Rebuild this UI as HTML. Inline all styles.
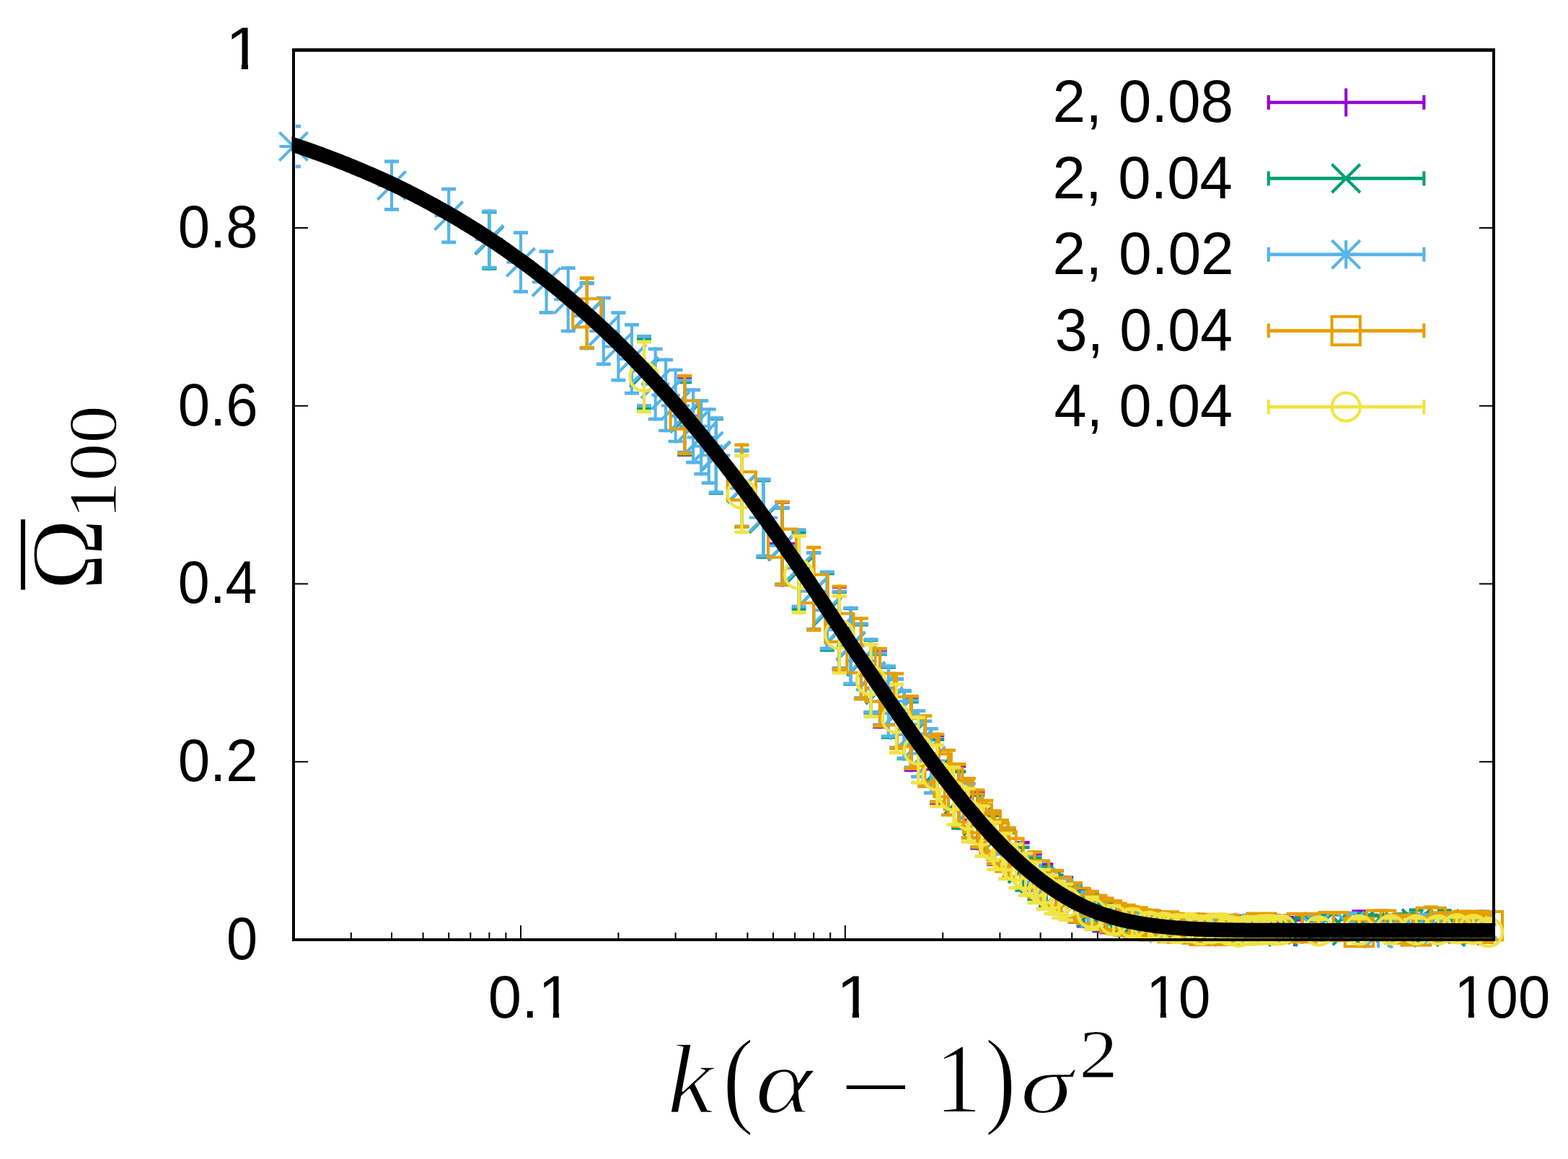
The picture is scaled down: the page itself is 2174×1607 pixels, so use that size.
<!DOCTYPE html>
<html lang="en"><head><meta charset="utf-8"><title>Omega_100 versus k(alpha-1)sigma^2</title>
<style>
html,body{margin:0;padding:0;background:#fff;}
body{width:2174px;height:1607px;overflow:hidden;}
svg{display:block;}
.tk{font-family:"Liberation Sans",sans-serif;fill:#000;}
.mr{font-family:"Liberation Serif",serif;fill:#000;}
.mi{font-family:"Liberation Serif",serif;font-style:italic;fill:#000;}
.mn{font-family:"Liberation Serif",serif;fill:#000;}
.mp,.ms{font-family:"Liberation Serif",serif;fill:#000;}
.mr,.mi,.mp,.ms{stroke:#fff;stroke-width:2px;vector-effect:non-scaling-stroke;stroke-linejoin:round;}
.mi,.mp{stroke-width:2.4px;}
.ms{stroke-width:1.2px;}
.d{fill:none;stroke-width:4.1;stroke-linecap:butt;stroke-linejoin:miter;}
</style></head>
<body>
<svg width="2174" height="1607" viewBox="0 0 2174 1607">
<rect width="2174" height="1607" fill="#fff"/>
<defs><clipPath id="cp"><rect x="404.5" y="67" width="1668.5" height="1238"/></clipPath><clipPath id="ce"><rect x="409.8" y="71" width="1659.2" height="1230"/></clipPath></defs>
<path id="tics" d="M407 1056.3h20M2071 1056.3h-20M407 809.6h20M2071 809.6h-20M407 562.8h20M2071 562.8h-20M407 316.1h20M2071 316.1h-20M486.8 1303v-10M543.0 1303v-10M586.6 1303v-10M622.2 1303v-10M652.3 1303v-10M678.4 1303v-10M701.4 1303v-10M722.0 1303v-20M857.4 1303v-10M936.6 1303v-10M992.8 1303v-10M1036.4 1303v-10M1072.0 1303v-10M1102.1 1303v-10M1128.2 1303v-10M1151.2 1303v-10M1171.8 1303v-20M1307.2 1303v-10M1386.4 1303v-10M1442.6 1303v-10M1486.2 1303v-10M1521.8 1303v-10M1551.9 1303v-10M1578.0 1303v-10M1601.0 1303v-10M1621.6 1303v-20M1757.0 1303v-10M1836.2 1303v-10M1892.4 1303v-10M1936.0 1303v-10M1971.6 1303v-10M2001.7 1303v-10M2027.8 1303v-10M2050.8 1303v-10" fill="none" stroke="#000" stroke-width="2"/>
<g class="d" stroke="#9400d3"><path clip-path="url(#ce)" d="M949.2 633.1V520.5M1084.6 813.4V694.1M1163.8 930.8V811.5M1220 1010.3V898.7M1263.6 1070.3V965.6M1299.2 1115.9V1017.6M1329.3 1150.1V1060M1355.4 1178.6V1095.4M1378.4 1201.1V1123.3M1399 1220.3V1147.1M1417.6 1235.8V1165.9M1434.6 1248.8V1181.8M1450.3 1260.6V1196.1M1464.7 1268V1205.1M1478.2 1275.2V1214.5M1490.8 1280.7V1222.7M1502.7 1286.5V1231.1M1513.8 1290.4V1236.9M1524.4 1293.2V1241.2M1534.4 1295.3V1245M1570 1301.4V1255.7M1600.1 1304.5V1261.2M1626.2 1306.9V1265.5M1649.2 1308.5V1268.2M1669.8 1307.3V1266.2M1688.4 1309.1V1269.1M1705.4 1309.9V1270.3M1721.1 1308.3V1267.9M1735.6 1309.6V1269.9M1749 1310.3V1270.9M1761.6 1309.6V1269.9M1773.5 1308.1V1267.5M1784.6 1309.5V1269.6M1795.2 1311.6V1272.9M1805.2 1309V1268.9M1814.8 1308.1V1267.5M1823.8 1311.3V1272.5M1832.5 1306.8V1265.3M1884.4 1304.6V1261.4M1940.6 1307.1V1265.8M1984.2 1306.7V1265.1M2019.8 1309V1268.9M2049.9 1310.6V1271.4"/><path clip-path="url(#ce)" stroke-width="4.7" d="M939.2 630.7h20M939.2 522.9h20M1074.6 811h20M1074.6 696.4h20M1153.8 928.5h20M1153.8 813.9h20M1210 1008h20M1210 901.1h20M1253.6 1068h20M1253.6 967.9h20M1289.2 1113.6h20M1289.2 1019.9h20M1319.3 1147.8h20M1319.3 1062.4h20M1345.4 1176.2h20M1345.4 1097.7h20M1368.4 1198.7h20M1368.4 1125.7h20M1389 1217.9h20M1389 1149.4h20M1407.6 1233.4h20M1407.6 1168.3h20M1424.6 1246.5h20M1424.6 1184.1h20M1440.3 1258.2h20M1440.3 1198.4h20M1454.7 1265.6h20M1454.7 1207.4h20M1468.2 1272.8h20M1468.2 1216.9h20M1480.8 1278.4h20M1480.8 1225h20M1492.7 1284.1h20M1492.7 1233.5h20M1503.8 1288.1h20M1503.8 1239.3h20M1514.4 1290.8h20M1514.4 1243.5h20M1524.4 1293h20M1524.4 1247.3h20M1560 1299h20M1560 1258h20M1590.1 1302.2h20M1590.1 1263.6h20M1616.2 1304.6h20M1616.2 1267.9h20M1639.2 1306.2h20M1639.2 1270.5h20M1659.8 1305h20M1659.8 1268.6h20M1678.4 1306.8h20M1678.4 1271.4h20M1695.4 1307.5h20M1695.4 1272.6h20M1711.1 1306h20M1711.1 1270.2h20M1725.6 1307.3h20M1725.6 1272.2h20M1739 1307.9h20M1739 1273.2h20M1751.6 1307.3h20M1751.6 1272.3h20M1763.5 1305.7h20M1763.5 1269.9h20M1774.6 1307.1h20M1774.6 1272h20M1785.2 1309.2h20M1785.2 1275.3h20M1795.2 1306.6h20M1795.2 1271.3h20M1804.8 1305.7h20M1804.8 1269.8h20M1813.8 1308.9h20M1813.8 1274.8h20M1822.5 1304.5h20M1822.5 1267.7h20M1874.4 1302.2h20M1874.4 1263.7h20M1930.6 1304.8h20M1930.6 1268.2h20M1974.2 1304.4h20M1974.2 1267.5h20M2009.8 1306.6h20M2009.8 1271.2h20M2039.9 1308.2h20M2039.9 1273.7h20"/><path d="M929.6 576.8H968.8M949.2 557.2V596.4M1065 753.7H1104.2M1084.6 734.1V773.3M1144.2 871.2H1183.4M1163.8 851.6V890.8M1200.4 954.5H1239.6M1220 934.9V974.1M1244 1018H1283.2M1263.6 998.4V1037.6M1279.6 1066.7H1318.8M1299.2 1047.1V1086.3M1309.7 1105.1H1348.9M1329.3 1085.5V1124.7M1335.8 1137H1375M1355.4 1117.4V1156.6M1358.8 1162.2H1398M1378.4 1142.6V1181.8M1379.4 1183.7H1418.6M1399 1164.1V1203.3M1398 1200.8H1437.2M1417.6 1181.2V1220.4M1415 1215.3H1454.2M1434.6 1195.7V1234.9M1430.7 1228.3H1469.9M1450.3 1208.7V1247.9M1445.1 1236.5H1484.3M1464.7 1216.9V1256.1M1458.6 1244.9H1497.8M1478.2 1225.3V1264.5M1471.2 1251.7H1510.4M1490.8 1232.1V1271.3M1483.1 1258.8H1522.3M1502.7 1239.2V1278.4M1494.2 1263.7H1533.4M1513.8 1244.1V1283.3M1504.8 1267.2H1544M1524.4 1247.6V1286.8M1514.8 1270.2H1554M1534.4 1250.6V1289.8M1550.4 1278.5H1589.6M1570 1258.9V1298.1M1580.5 1282.9H1619.7M1600.1 1263.3V1302.5M1606.6 1286.2H1645.8M1626.2 1266.6V1305.8M1629.6 1288.4H1668.8M1649.2 1268.8V1308M1650.2 1286.8H1689.4M1669.8 1267.2V1306.4M1668.8 1289.1H1708M1688.4 1269.5V1308.7M1685.8 1290.1H1725M1705.4 1270.5V1309.7M1701.5 1288.1H1740.7M1721.1 1268.5V1307.7M1716 1289.7H1755.2M1735.6 1270.1V1309.3M1729.4 1290.6H1768.6M1749 1271V1310.2M1742 1289.8H1781.2M1761.6 1270.2V1309.4M1753.9 1287.8H1793.1M1773.5 1268.2V1307.4M1765 1289.5H1804.2M1784.6 1269.9V1309.1M1775.6 1292.3H1814.8M1795.2 1272.7V1311.9M1785.6 1289H1824.8M1805.2 1269.4V1308.6M1795.2 1287.8H1834.4M1814.8 1268.2V1307.4M1804.2 1291.9H1843.4M1823.8 1272.3V1311.5M1812.9 1286.1H1852.1M1832.5 1266.5V1305.7M1864.8 1283H1904M1884.4 1263.4V1302.6M1921 1286.5H1960.2M1940.6 1266.9V1306.1M1964.6 1285.9H2003.8M1984.2 1266.3V1305.5M2000.2 1288.9H2039.4M2019.8 1269.3V1308.5M2030.3 1291H2069.5M2049.9 1271.4V1310.6"/></g>
<g class="d" stroke="#009e73"><path clip-path="url(#ce)" d="M678.4 374.7V291.6M813.8 484.7V390.2M893 568.1V467M949.2 632.3V527.5M992.8 685.9V578.2M1028.4 732.9V622.6M1058.5 774.7V663.9M1084.6 813V702.2M1107.6 846.6V735.8M1128.2 875.2V764.4M1146.8 903.6V792.8M1163.8 929.5V818.7M1179.5 950.9V841.4M1193.9 971.2V863.8M1207.4 990.7V885.3M1220 1008.3V904.8M1231.9 1024.6V922.8M1243 1039.4V939.1M1253.6 1054.4V955.7M1263.6 1068V970.8M1299.2 1114.1V1023.1M1329.3 1150.5V1067.6M1355.4 1177.3V1100.3M1378.4 1200.5V1128.7M1399 1219.7V1152M1417.6 1236.8V1172.5M1434.6 1249.1V1187.2M1450.3 1259.1V1199.1M1464.7 1269.2V1211.3M1478.2 1274.9V1219.2M1490.8 1279.7V1226M1502.7 1285.5V1234.2M1513.8 1287.8V1237.5M1524.4 1291.5V1243M1534.4 1294.1V1247.4M1544 1295.8V1250.4M1553 1297.4V1253M1561.7 1299.1V1255.9M1613.6 1304.9V1265.8M1669.8 1306.5V1268.5M1713.4 1309V1272.1M1749 1305.2V1266.2M1779.1 1310.1V1273.8M1805.2 1307.7V1270.2M1828.2 1304.7V1265.4M1848.8 1305V1265.9M1867.4 1309.1V1272.4M1884.4 1304V1264.2M1900.1 1305.4V1266.5M1914.5 1306V1267.6M1928 1306.4V1268.3M1940.6 1304.7V1265.4M1952.5 1304.4V1264.9M1963.6 1301.2V1259.4M1974.2 1307.1V1269.4M1984.2 1306.4V1268.3M1993.8 1306.6V1268.6M2002.8 1301.7V1260.2M2011.5 1310.3V1274.2M2019.8 1305.2V1266.2M2027.8 1307.2V1269.5"/><path clip-path="url(#ce)" stroke-width="4.7" d="M668.4 372.3h20M668.4 294h20M803.8 482.4h20M803.8 392.5h20M883 565.8h20M883 469.3h20M939.2 629.9h20M939.2 529.9h20M982.8 683.6h20M982.8 580.6h20M1018.4 730.5h20M1018.4 624.9h20M1048.5 772.3h20M1048.5 666.2h20M1074.6 810.6h20M1074.6 704.5h20M1097.6 844.3h20M1097.6 738.2h20M1118.2 872.8h20M1118.2 766.7h20M1136.8 901.3h20M1136.8 795.2h20M1153.8 927.1h20M1153.8 821h20M1169.5 948.6h20M1169.5 843.7h20M1183.9 968.8h20M1183.9 866.1h20M1197.4 988.3h20M1197.4 887.7h20M1210 1005.9h20M1210 907.1h20M1221.9 1022.3h20M1221.9 925.2h20M1233 1037h20M1233 941.5h20M1243.6 1052h20M1243.6 958.1h20M1253.6 1065.7h20M1253.6 973.2h20M1289.2 1111.8h20M1289.2 1025.4h20M1319.3 1148.2h20M1319.3 1069.9h20M1345.4 1175h20M1345.4 1102.6h20M1368.4 1198.2h20M1368.4 1131h20M1389 1217.4h20M1389 1154.3h20M1407.6 1234.5h20M1407.6 1174.8h20M1424.6 1246.7h20M1424.6 1189.5h20M1440.3 1256.7h20M1440.3 1201.5h20M1454.7 1266.9h20M1454.7 1213.6h20M1468.2 1272.6h20M1468.2 1221.5h20M1480.8 1277.4h20M1480.8 1228.4h20M1492.7 1283.1h20M1492.7 1236.5h20M1503.8 1285.5h20M1503.8 1239.9h20M1514.4 1289.1h20M1514.4 1245.3h20M1524.4 1291.7h20M1524.4 1249.8h20M1534 1293.5h20M1534 1252.7h20M1543 1295h20M1543 1255.4h20M1551.7 1296.7h20M1551.7 1258.2h20M1603.6 1302.6h20M1603.6 1268.1h20M1659.8 1304.2h20M1659.8 1270.8h20M1703.4 1306.6h20M1703.4 1274.5h20M1739 1302.8h20M1739 1268.5h20M1769.1 1307.7h20M1769.1 1276.2h20M1795.2 1305.3h20M1795.2 1272.6h20M1818.2 1302.3h20M1818.2 1267.7h20M1838.8 1302.6h20M1838.8 1268.2h20M1857.4 1306.8h20M1857.4 1274.8h20M1874.4 1301.6h20M1874.4 1266.5h20M1890.1 1303h20M1890.1 1268.9h20M1904.5 1303.6h20M1904.5 1269.9h20M1918 1304.1h20M1918 1270.7h20M1930.6 1302.4h20M1930.6 1267.8h20M1942.5 1302h20M1942.5 1267.2h20M1953.6 1298.8h20M1953.6 1261.8h20M1964.2 1304.8h20M1964.2 1271.7h20M1974.2 1304.1h20M1974.2 1270.6h20M1983.8 1304.2h20M1983.8 1270.9h20M1992.8 1299.3h20M1992.8 1262.6h20M2001.5 1308h20M2001.5 1276.6h20M2009.8 1302.8h20M2009.8 1268.5h20M2017.8 1304.8h20M2017.8 1271.8h20"/><path d="M658.8 313.6L698 352.8M658.8 352.8L698 313.6M794.2 417.8L833.4 457M794.2 457L833.4 417.8M873.4 497.9L912.6 537.1M873.4 537.1L912.6 497.9M929.6 560.3L968.8 599.5M929.6 599.5L968.8 560.3M973.2 612.5L1012.4 651.7M973.2 651.7L1012.4 612.5M1008.8 658.1L1048 697.3M1008.8 697.3L1048 658.1M1038.9 699.7L1078.1 738.9M1038.9 738.9L1078.1 699.7M1065 738L1104.2 777.2M1065 777.2L1104.2 738M1088 771.6L1127.2 810.8M1088 810.8L1127.2 771.6M1108.6 800.2L1147.8 839.4M1108.6 839.4L1147.8 800.2M1127.2 828.6L1166.4 867.8M1127.2 867.8L1166.4 828.6M1144.2 854.5L1183.4 893.7M1144.2 893.7L1183.4 854.5M1159.9 876.5L1199.1 915.7M1159.9 915.7L1199.1 876.5M1174.3 897.9L1213.5 937.1M1174.3 937.1L1213.5 897.9M1187.8 918.4L1227 957.6M1187.8 957.6L1227 918.4M1200.4 936.9L1239.6 976.1M1200.4 976.1L1239.6 936.9M1212.3 954.1L1251.5 993.3M1212.3 993.3L1251.5 954.1M1223.4 969.6L1262.6 1008.8M1223.4 1008.8L1262.6 969.6M1234 985.5L1273.2 1024.7M1234 1024.7L1273.2 985.5M1244 999.8L1283.2 1039M1244 1039L1283.2 999.8M1279.6 1049L1318.8 1088.2M1279.6 1088.2L1318.8 1049M1309.7 1089.5L1348.9 1128.7M1309.7 1128.7L1348.9 1089.5M1335.8 1119.2L1375 1158.4M1335.8 1158.4L1375 1119.2M1358.8 1145L1398 1184.2M1358.8 1184.2L1398 1145M1379.4 1166.2L1418.6 1205.4M1379.4 1205.4L1418.6 1166.2M1398 1185.1L1437.2 1224.3M1398 1224.3L1437.2 1185.1M1415 1198.5L1454.2 1237.7M1415 1237.7L1454.2 1198.5M1430.7 1209.5L1469.9 1248.7M1430.7 1248.7L1469.9 1209.5M1445.1 1220.6L1484.3 1259.8M1445.1 1259.8L1484.3 1220.6M1458.6 1227.4L1497.8 1266.6M1458.6 1266.6L1497.8 1227.4M1471.2 1233.3L1510.4 1272.5M1471.2 1272.5L1510.4 1233.3M1483.1 1240.2L1522.3 1279.4M1483.1 1279.4L1522.3 1240.2M1494.2 1243.1L1533.4 1282.3M1494.2 1282.3L1533.4 1243.1M1504.8 1247.6L1544 1286.8M1504.8 1286.8L1544 1247.6M1514.8 1251.2L1554 1290.4M1514.8 1290.4L1554 1251.2M1524.4 1253.5L1563.6 1292.7M1524.4 1292.7L1563.6 1253.5M1533.4 1255.6L1572.6 1294.8M1533.4 1294.8L1572.6 1255.6M1542.1 1257.9L1581.3 1297.1M1542.1 1297.1L1581.3 1257.9M1594 1265.7L1633.2 1304.9M1594 1304.9L1633.2 1265.7M1650.2 1267.9L1689.4 1307.1M1650.2 1307.1L1689.4 1267.9M1693.8 1270.9L1733 1310.1M1693.8 1310.1L1733 1270.9M1729.4 1266.1L1768.6 1305.3M1729.4 1305.3L1768.6 1266.1M1759.5 1272.4L1798.7 1311.6M1759.5 1311.6L1798.7 1272.4M1785.6 1269.3L1824.8 1308.5M1785.6 1308.5L1824.8 1269.3M1808.6 1265.4L1847.8 1304.6M1808.6 1304.6L1847.8 1265.4M1829.2 1265.8L1868.4 1305M1829.2 1305L1868.4 1265.8M1847.8 1271.2L1887 1310.4M1847.8 1310.4L1887 1271.2M1864.8 1264.5L1904 1303.7M1864.8 1303.7L1904 1264.5M1880.5 1266.3L1919.7 1305.5M1880.5 1305.5L1919.7 1266.3M1894.9 1267.2L1934.1 1306.4M1894.9 1306.4L1934.1 1267.2M1908.4 1267.8L1947.6 1307M1908.4 1307L1947.6 1267.8M1921 1265.5L1960.2 1304.7M1921 1304.7L1960.2 1265.5M1932.9 1265L1972.1 1304.2M1932.9 1304.2L1972.1 1265M1944 1260.7L1983.2 1299.9M1944 1299.9L1983.2 1260.7M1954.6 1268.7L1993.8 1307.9M1954.6 1307.9L1993.8 1268.7M1964.6 1267.8L2003.8 1307M1964.6 1307L2003.8 1267.8M1974.2 1268L2013.4 1307.2M1974.2 1307.2L2013.4 1268M1983.2 1261.4L2022.4 1300.6M1983.2 1300.6L2022.4 1261.4M1991.9 1272.7L2031.1 1311.9M1991.9 1311.9L2031.1 1272.7M2000.2 1266.1L2039.4 1305.3M2000.2 1305.3L2039.4 1266.1M2008.2 1268.7L2047.4 1307.9M2008.2 1307.9L2047.4 1268.7"/></g>
<g class="d" stroke="#56b4e9"><path clip-path="url(#ce)" d="M407 233.2V172.9M543 292.8V221.4M622.2 338.2V259.9M678.4 373.4V290.5M722 406.8V320.4M757.6 435.8V346.4M787.7 461.4V369.3M813.8 485.4V390.8M836.8 507.2V410.9M857.4 529.5V431.4M876 547.5V447.9M893 564.9V463.9M908.7 583.6V481.5M923.1 599.3V496.4M936.6 614.4V510.7M949.2 629.5V525M961.1 643.6V538.2M972.2 659.5V553.3M982.8 672.1V565.2M992.8 685V577.4M1028.4 732.1V621.9M1058.5 773.1V662.3M1084.6 812.2V701.4M1107.6 843.2V732.4M1128.2 875.1V764.3M1146.8 901.5V790.7M1163.8 928.5V817.7M1179.5 950.2V840.6M1193.9 970V862.4M1207.4 989.7V884.2M1220 1007.1V903.5M1231.9 1023.2V921.3M1243 1039V938.8M1253.6 1053.6V954.9M1263.6 1066.2V968.9M1273.1 1079.3V983.3M1282.2 1092.1V997.4M1290.9 1101.6V1008M1342.8 1164.1V1084.2M1399 1218.4V1150.4M1442.6 1253.4V1192.3M1478.2 1274V1217.9M1508.3 1285.9V1234.9M1534.4 1293.6V1246.6M1557.4 1297.9V1253.9M1578 1301.9V1260.7M1596.6 1303.4V1263.2M1613.6 1306.1V1267.8M1629.3 1305.3V1266.4M1643.7 1304.8V1265.6M1657.2 1307.6V1270M1669.8 1307.2V1269.4M1681.7 1307.8V1270.4M1692.8 1305.8V1267.3M1703.4 1310.3V1274.2M1713.4 1307.2V1269.6M1722.9 1307.6V1270.1M1732 1305.6V1266.8M1740.7 1306.6V1268.6M1749 1304.9V1265.8M1757 1308.9V1272.1M1822.7 1306.5V1268.4M1871.8 1303.8V1263.8M1911 1312.1V1276.9M1943.7 1311.1V1275.4M1971.6 1305.1V1266M1996.1 1306.5V1268.5M2017.8 1305.6V1267M2037.3 1305.8V1267.2M2055.1 1302.2V1261.1"/><path clip-path="url(#ce)" stroke-width="4.7" d="M397 230.9h20M397 175.2h20M533 290.4h20M533 223.8h20M612.2 335.9h20M612.2 262.2h20M668.4 371.1h20M668.4 292.8h20M712 404.4h20M712 322.7h20M747.6 433.4h20M747.6 348.7h20M777.7 459h20M777.7 371.6h20M803.8 483h20M803.8 393.1h20M826.8 504.9h20M826.8 413.2h20M847.4 527.2h20M847.4 433.7h20M866 545.2h20M866 450.3h20M883 562.6h20M883 466.3h20M898.7 581.2h20M898.7 483.9h20M913.1 597h20M913.1 498.8h20M926.6 612h20M926.6 513h20M939.2 627.2h20M939.2 527.3h20M951.1 641.2h20M951.1 540.6h20M962.2 657.2h20M962.2 555.7h20M972.8 669.7h20M972.8 567.5h20M982.8 682.7h20M982.8 579.7h20M1018.4 729.8h20M1018.4 624.2h20M1048.5 770.8h20M1048.5 664.7h20M1074.6 809.9h20M1074.6 703.8h20M1097.6 840.8h20M1097.6 734.7h20M1118.2 872.7h20M1118.2 766.6h20M1136.8 899.2h20M1136.8 793.1h20M1153.8 926.1h20M1153.8 820h20M1169.5 947.9h20M1169.5 843h20M1183.9 967.6h20M1183.9 864.8h20M1197.4 987.3h20M1197.4 886.6h20M1210 1004.8h20M1210 905.9h20M1221.9 1020.9h20M1221.9 923.7h20M1233 1036.7h20M1233 941.1h20M1243.6 1051.3h20M1243.6 957.3h20M1253.6 1063.9h20M1253.6 971.2h20M1263.1 1076.9h20M1263.1 985.6h20M1272.2 1089.7h20M1272.2 999.8h20M1280.9 1099.3h20M1280.9 1010.3h20M1332.8 1161.8h20M1332.8 1086.5h20M1389 1216h20M1389 1152.7h20M1432.6 1251.1h20M1432.6 1194.7h20M1468.2 1271.6h20M1468.2 1220.2h20M1498.3 1283.6h20M1498.3 1237.2h20M1524.4 1291.3h20M1524.4 1249h20M1547.4 1295.6h20M1547.4 1256.3h20M1568 1299.6h20M1568 1263h20M1586.6 1301.1h20M1586.6 1265.6h20M1603.6 1303.8h20M1603.6 1270.2h20M1619.3 1303h20M1619.3 1268.8h20M1633.7 1302.5h20M1633.7 1268h20M1647.2 1305.2h20M1647.2 1272.4h20M1659.8 1304.8h20M1659.8 1271.8h20M1671.7 1305.5h20M1671.7 1272.8h20M1682.8 1303.5h20M1682.8 1269.7h20M1693.4 1308h20M1693.4 1276.6h20M1703.4 1304.9h20M1703.4 1271.9h20M1712.9 1305.2h20M1712.9 1272.4h20M1722 1303.2h20M1722 1269.2h20M1730.7 1304.3h20M1730.7 1271h20M1739 1302.6h20M1739 1268.1h20M1747 1306.6h20M1747 1274.5h20M1812.7 1304.1h20M1812.7 1270.7h20M1861.8 1301.4h20M1861.8 1266.2h20M1901 1309.8h20M1901 1279.2h20M1933.7 1308.8h20M1933.7 1277.8h20M1961.6 1302.7h20M1961.6 1268.4h20M1986.1 1304.2h20M1986.1 1270.8h20M2007.8 1303.3h20M2007.8 1269.3h20M2027.3 1303.4h20M2027.3 1269.5h20M2045.1 1299.8h20M2045.1 1263.5h20"/><path d="M387.4 203H426.6M407 183.4V222.6M387.4 183.4L426.6 222.6M387.4 222.6L426.6 183.4M523.4 257.1H562.6M543 237.5V276.7M523.4 237.5L562.6 276.7M523.4 276.7L562.6 237.5M602.6 299.1H641.8M622.2 279.5V318.7M602.6 279.5L641.8 318.7M602.6 318.7L641.8 279.5M658.8 331.9H698M678.4 312.3V351.5M658.8 312.3L698 351.5M658.8 351.5L698 312.3M702.4 363.6H741.6M722 344V383.2M702.4 344L741.6 383.2M702.4 383.2L741.6 344M738 391.1H777.2M757.6 371.5V410.7M738 371.5L777.2 410.7M738 410.7L777.2 371.5M768.1 415.3H807.3M787.7 395.7V434.9M768.1 395.7L807.3 434.9M768.1 434.9L807.3 395.7M794.2 438.1H833.4M813.8 418.5V457.7M794.2 418.5L833.4 457.7M794.2 457.7L833.4 418.5M817.2 459.1H856.4M836.8 439.5V478.7M817.2 439.5L856.4 478.7M817.2 478.7L856.4 439.5M837.8 480.5H877M857.4 460.9V500.1M837.8 460.9L877 500.1M837.8 500.1L877 460.9M856.4 497.7H895.6M876 478.1V517.3M856.4 478.1L895.6 517.3M856.4 517.3L895.6 478.1M873.4 514.4H912.6M893 494.8V534M873.4 494.8L912.6 534M873.4 534L912.6 494.8M889.1 532.6H928.3M908.7 513V552.2M889.1 513L928.3 552.2M889.1 552.2L928.3 513M903.5 547.9H942.7M923.1 528.3V567.5M903.5 528.3L942.7 567.5M903.5 567.5L942.7 528.3M917 562.5H956.2M936.6 542.9V582.1M917 542.9L956.2 582.1M917 582.1L956.2 542.9M929.6 577.2H968.8M949.2 557.6V596.8M929.6 557.6L968.8 596.8M929.6 596.8L968.8 557.6M941.5 590.9H980.7M961.1 571.3V610.5M941.5 571.3L980.7 610.5M941.5 610.5L980.7 571.3M952.6 606.4H991.8M972.2 586.8V626M952.6 586.8L991.8 626M952.6 626L991.8 586.8M963.2 618.6H1002.4M982.8 599V638.2M963.2 599L1002.4 638.2M963.2 638.2L1002.4 599M973.2 631.2H1012.4M992.8 611.6V650.8M973.2 611.6L1012.4 650.8M973.2 650.8L1012.4 611.6M1008.8 677H1048M1028.4 657.4V696.6M1008.8 657.4L1048 696.6M1008.8 696.6L1048 657.4M1038.9 717.7H1078.1M1058.5 698.1V737.3M1038.9 698.1L1078.1 737.3M1038.9 737.3L1078.1 698.1M1065 756.8H1104.2M1084.6 737.2V776.4M1065 737.2L1104.2 776.4M1065 776.4L1104.2 737.2M1088 787.8H1127.2M1107.6 768.2V807.4M1088 768.2L1127.2 807.4M1088 807.4L1127.2 768.2M1108.6 819.7H1147.8M1128.2 800.1V839.3M1108.6 800.1L1147.8 839.3M1108.6 839.3L1147.8 800.1M1127.2 846.1H1166.4M1146.8 826.5V865.7M1127.2 826.5L1166.4 865.7M1127.2 865.7L1166.4 826.5M1144.2 873.1H1183.4M1163.8 853.5V892.7M1144.2 853.5L1183.4 892.7M1144.2 892.7L1183.4 853.5M1159.9 895.4H1199.1M1179.5 875.8V915M1159.9 875.8L1199.1 915M1159.9 915L1199.1 875.8M1174.3 916.2H1213.5M1193.9 896.6V935.8M1174.3 896.6L1213.5 935.8M1174.3 935.8L1213.5 896.6M1187.8 937H1227M1207.4 917.4V956.6M1187.8 917.4L1227 956.6M1187.8 956.6L1227 917.4M1200.4 955.3H1239.6M1220 935.7V974.9M1200.4 935.7L1239.6 974.9M1200.4 974.9L1239.6 935.7M1212.3 972.3H1251.5M1231.9 952.7V991.9M1212.3 952.7L1251.5 991.9M1212.3 991.9L1251.5 952.7M1223.4 988.9H1262.6M1243 969.3V1008.5M1223.4 969.3L1262.6 1008.5M1223.4 1008.5L1262.6 969.3M1234 1004.3H1273.2M1253.6 984.7V1023.9M1234 984.7L1273.2 1023.9M1234 1023.9L1273.2 984.7M1244 1017.5H1283.2M1263.6 997.9V1037.1M1244 997.9L1283.2 1037.1M1244 1037.1L1283.2 997.9M1253.5 1031.3H1292.7M1273.1 1011.7V1050.9M1253.5 1011.7L1292.7 1050.9M1253.5 1050.9L1292.7 1011.7M1262.6 1044.7H1301.8M1282.2 1025.1V1064.3M1262.6 1025.1L1301.8 1064.3M1262.6 1064.3L1301.8 1025.1M1271.3 1054.8H1310.5M1290.9 1035.2V1074.4M1271.3 1035.2L1310.5 1074.4M1271.3 1074.4L1310.5 1035.2M1323.2 1124.1H1362.4M1342.8 1104.5V1143.7M1323.2 1104.5L1362.4 1143.7M1323.2 1143.7L1362.4 1104.5M1379.4 1184.4H1418.6M1399 1164.8V1204M1379.4 1164.8L1418.6 1204M1379.4 1204L1418.6 1164.8M1423 1222.9H1462.2M1442.6 1203.3V1242.5M1423 1203.3L1462.2 1242.5M1423 1242.5L1462.2 1203.3M1458.6 1245.9H1497.8M1478.2 1226.3V1265.5M1458.6 1226.3L1497.8 1265.5M1458.6 1265.5L1497.8 1226.3M1488.7 1260.4H1527.9M1508.3 1240.8V1280M1488.7 1240.8L1527.9 1280M1488.7 1280L1527.9 1240.8M1514.8 1270.1H1554M1534.4 1250.5V1289.7M1514.8 1250.5L1554 1289.7M1514.8 1289.7L1554 1250.5M1537.8 1275.9H1577M1557.4 1256.3V1295.5M1537.8 1256.3L1577 1295.5M1537.8 1295.5L1577 1256.3M1558.4 1281.3H1597.6M1578 1261.7V1300.9M1558.4 1261.7L1597.6 1300.9M1558.4 1300.9L1597.6 1261.7M1577 1283.3H1616.2M1596.6 1263.7V1302.9M1577 1263.7L1616.2 1302.9M1577 1302.9L1616.2 1263.7M1594 1287H1633.2M1613.6 1267.4V1306.6M1594 1267.4L1633.2 1306.6M1594 1306.6L1633.2 1267.4M1609.7 1285.9H1648.9M1629.3 1266.3V1305.5M1609.7 1266.3L1648.9 1305.5M1609.7 1305.5L1648.9 1266.3M1624.1 1285.2H1663.3M1643.7 1265.6V1304.8M1624.1 1265.6L1663.3 1304.8M1624.1 1304.8L1663.3 1265.6M1637.6 1288.8H1676.8M1657.2 1269.2V1308.4M1637.6 1269.2L1676.8 1308.4M1637.6 1308.4L1676.8 1269.2M1650.2 1288.3H1689.4M1669.8 1268.7V1307.9M1650.2 1268.7L1689.4 1307.9M1650.2 1307.9L1689.4 1268.7M1662.1 1289.1H1701.3M1681.7 1269.5V1308.7M1662.1 1269.5L1701.3 1308.7M1662.1 1308.7L1701.3 1269.5M1673.2 1286.6H1712.4M1692.8 1267V1306.2M1673.2 1267L1712.4 1306.2M1673.2 1306.2L1712.4 1267M1683.8 1292.3H1723M1703.4 1272.7V1311.9M1683.8 1272.7L1723 1311.9M1683.8 1311.9L1723 1272.7M1693.8 1288.4H1733M1713.4 1268.8V1308M1693.8 1268.8L1733 1308M1693.8 1308L1733 1268.8M1703.3 1288.8H1742.5M1722.9 1269.2V1308.4M1703.3 1269.2L1742.5 1308.4M1703.3 1308.4L1742.5 1269.2M1712.4 1286.2H1751.6M1732 1266.6V1305.8M1712.4 1266.6L1751.6 1305.8M1712.4 1305.8L1751.6 1266.6M1721.1 1287.6H1760.3M1740.7 1268V1307.2M1721.1 1268L1760.3 1307.2M1721.1 1307.2L1760.3 1268M1729.4 1285.4H1768.6M1749 1265.8V1305M1729.4 1265.8L1768.6 1305M1729.4 1305L1768.6 1265.8M1737.4 1290.5H1776.6M1757 1270.9V1310.1M1737.4 1270.9L1776.6 1310.1M1737.4 1310.1L1776.6 1270.9M1803.1 1287.4H1842.3M1822.7 1267.8V1307M1803.1 1267.8L1842.3 1307M1803.1 1307L1842.3 1267.8M1852.2 1283.8H1891.4M1871.8 1264.2V1303.4M1852.2 1264.2L1891.4 1303.4M1852.2 1303.4L1891.4 1264.2M1891.4 1294.5H1930.6M1911 1274.9V1314.1M1891.4 1274.9L1930.6 1314.1M1891.4 1314.1L1930.6 1274.9M1924.1 1293.3H1963.3M1943.7 1273.7V1312.9M1924.1 1273.7L1963.3 1312.9M1924.1 1312.9L1963.3 1273.7M1952 1285.6H1991.2M1971.6 1266V1305.2M1952 1266L1991.2 1305.2M1952 1305.2L1991.2 1266M1976.5 1287.5H2015.7M1996.1 1267.9V1307.1M1976.5 1267.9L2015.7 1307.1M1976.5 1307.1L2015.7 1267.9M1998.2 1286.3H2037.4M2017.8 1266.7V1305.9M1998.2 1266.7L2037.4 1305.9M1998.2 1305.9L2037.4 1266.7M2017.7 1286.5H2056.9M2037.3 1266.9V1306.1M2017.7 1266.9L2056.9 1306.1M2017.7 1306.1L2056.9 1266.9M2035.5 1281.7H2074.7M2055.1 1262.1V1301.3M2035.5 1262.1L2074.7 1301.3M2035.5 1301.3L2074.7 1262.1"/></g>
<g class="d" stroke="#e69f00"><path clip-path="url(#ce)" d="M813.8 484.5V383.2M949.2 631.3V518.9M1028.4 733V614.5M1084.6 812.9V693.6M1128.2 876V756.7M1163.8 929.9V810.6M1193.9 971.2V855.2M1220 1009V897.2M1243 1040V931.8M1263.6 1068V963M1282.2 1092.6V990.4M1299.2 1114.4V1015.6M1314.9 1132.3V1038M1329.3 1148V1057.4M1342.8 1163.7V1076.9M1355.4 1176.8V1093.1M1367.3 1188.5V1107.7M1378.4 1200V1122M1389 1210.4V1134.9M1399 1218.9V1145.5M1434.6 1246.5V1179M1464.7 1267.8V1204.8M1490.8 1280.3V1222M1513.8 1288.3V1233.8M1534.4 1294.3V1243.1M1553 1298.5V1250.5M1570 1300.9V1254.8M1585.7 1303.4V1259.2M1600.1 1305.2V1262.4M1613.6 1305.2V1262.4M1626.2 1307V1265.7M1638.1 1307.4V1266.3M1649.2 1307.3V1266.2M1659.8 1308.3V1267.8M1669.8 1310V1270.5M1679.4 1307.9V1267.1M1688.4 1310.1V1270.7M1697.1 1308.5V1268.2M1749 1306.8V1265.3M1805.2 1307.1V1265.8M1848.8 1305.8V1263.6M1884.4 1311.8V1273.3M1914.5 1304V1260.2M1940.6 1308.4V1267.9M1963.6 1310.5V1271.3M1984.2 1301.3V1255.5M2002.8 1305.9V1263.7M2019.8 1306.6V1264.8M2035.5 1304.8V1261.7M2049.9 1307.7V1266.9M2063.4 1305.1V1262.2"/><path clip-path="url(#ce)" stroke-width="4.7" d="M803.8 482.2h20M803.8 385.6h20M939.2 629h20M939.2 521.2h20M1018.4 730.7h20M1018.4 616.8h20M1074.6 810.5h20M1074.6 695.9h20M1118.2 873.6h20M1118.2 759.1h20M1153.8 927.6h20M1153.8 813h20M1183.9 968.9h20M1183.9 857.5h20M1210 1006.6h20M1210 899.6h20M1233 1037.7h20M1233 934.2h20M1253.6 1065.7h20M1253.6 965.4h20M1272.2 1090.3h20M1272.2 992.7h20M1289.2 1112h20M1289.2 1018h20M1304.9 1130h20M1304.9 1040.3h20M1319.3 1145.6h20M1319.3 1059.7h20M1332.8 1161.4h20M1332.8 1079.3h20M1345.4 1174.4h20M1345.4 1095.5h20M1357.3 1186.2h20M1357.3 1110.1h20M1368.4 1197.7h20M1368.4 1124.4h20M1379 1208.1h20M1379 1137.3h20M1389 1216.6h20M1389 1147.8h20M1424.6 1244.2h20M1424.6 1181.3h20M1454.7 1265.5h20M1454.7 1207.2h20M1480.8 1277.9h20M1480.8 1224.3h20M1503.8 1286h20M1503.8 1236.2h20M1524.4 1291.9h20M1524.4 1245.5h20M1543 1296.1h20M1543 1252.9h20M1560 1298.5h20M1560 1257.2h20M1575.7 1301h20M1575.7 1261.5h20M1590.1 1302.8h20M1590.1 1264.8h20M1603.6 1302.8h20M1603.6 1264.7h20M1616.2 1304.7h20M1616.2 1268h20M1628.1 1305h20M1628.1 1268.7h20M1639.2 1305h20M1639.2 1268.5h20M1649.8 1305.9h20M1649.8 1270.2h20M1659.8 1307.7h20M1659.8 1272.9h20M1669.4 1305.5h20M1669.4 1269.5h20M1678.4 1307.8h20M1678.4 1273h20M1687.1 1306.2h20M1687.1 1270.6h20M1739 1304.5h20M1739 1267.7h20M1795.2 1304.8h20M1795.2 1268.2h20M1838.8 1303.5h20M1838.8 1265.9h20M1874.4 1309.5h20M1874.4 1275.7h20M1904.5 1301.6h20M1904.5 1262.6h20M1930.6 1306h20M1930.6 1270.3h20M1953.6 1308.2h20M1953.6 1273.6h20M1974.2 1298.9h20M1974.2 1257.9h20M1992.8 1303.6h20M1992.8 1266.1h20M2009.8 1304.2h20M2009.8 1267.2h20M2025.5 1302.4h20M2025.5 1264h20M2039.9 1305.4h20M2039.9 1269.3h20M2053.4 1302.7h20M2053.4 1264.6h20"/><path d="M794.2 414.3H833.4V453.5H794.2ZM929.6 555.5H968.8V594.7H929.6ZM1008.8 654.2H1048V693.4H1008.8ZM1065 733.6H1104.2V772.8H1065ZM1108.6 796.8H1147.8V836H1108.6ZM1144.2 850.7H1183.4V889.9H1144.2ZM1174.3 893.6H1213.5V932.8H1174.3ZM1200.4 933.5H1239.6V972.7H1200.4ZM1223.4 966.3H1262.6V1005.5H1223.4ZM1244 995.9H1283.2V1035.1H1244ZM1262.6 1021.9H1301.8V1061.1H1262.6ZM1279.6 1045.4H1318.8V1084.6H1279.6ZM1295.3 1065.5H1334.5V1104.7H1295.3ZM1309.7 1083.1H1348.9V1122.3H1309.7ZM1323.2 1100.7H1362.4V1139.9H1323.2ZM1335.8 1115.3H1375V1154.5H1335.8ZM1347.7 1128.5H1386.9V1167.7H1347.7ZM1358.8 1141.4H1398V1180.6H1358.8ZM1369.4 1153.1H1408.6V1192.3H1369.4ZM1379.4 1162.6H1418.6V1201.8H1379.4ZM1415 1193.2H1454.2V1232.4H1415ZM1445.1 1216.7H1484.3V1255.9H1445.1ZM1471.2 1231.5H1510.4V1270.7H1471.2ZM1494.2 1241.5H1533.4V1280.7H1494.2ZM1514.8 1249.1H1554V1288.3H1514.8ZM1533.4 1254.9H1572.6V1294.1H1533.4ZM1550.4 1258.2H1589.6V1297.4H1550.4ZM1566.1 1261.7H1605.3V1300.9H1566.1ZM1580.5 1264.2H1619.7V1303.4H1580.5ZM1594 1264.2H1633.2V1303.4H1594ZM1606.6 1266.8H1645.8V1306H1606.6ZM1618.5 1267.3H1657.7V1306.5H1618.5ZM1629.6 1267.2H1668.8V1306.4H1629.6ZM1640.2 1268.4H1679.4V1307.6H1640.2ZM1650.2 1270.7H1689.4V1309.9H1650.2ZM1659.8 1267.9H1699V1307.1H1659.8ZM1668.8 1270.8H1708V1310H1668.8ZM1677.5 1268.8H1716.7V1308H1677.5ZM1729.4 1266.5H1768.6V1305.7H1729.4ZM1785.6 1266.9H1824.8V1306.1H1785.6ZM1829.2 1265.1H1868.4V1304.3H1829.2ZM1864.8 1273H1904V1312.2H1864.8ZM1894.9 1262.5H1934.1V1301.7H1894.9ZM1921 1268.6H1960.2V1307.8H1921ZM1944 1271.3H1983.2V1310.5H1944ZM1964.6 1258.8H2003.8V1298H1964.6ZM1983.2 1265.2H2022.4V1304.4H1983.2ZM2000.2 1266.1H2039.4V1305.3H2000.2ZM2015.9 1263.6H2055.1V1302.8H2015.9ZM2030.3 1267.7H2069.5V1306.9H2030.3ZM2043.8 1264H2083V1303.2H2043.8Z"/></g>
<g class="d" stroke="#f0e442"><path clip-path="url(#ce)" d="M893 573.2V471.8M1028.4 740.3V629.5M1107.6 851.9V741.1M1163.8 935.2V824.4M1207.4 996.1V891.3M1243 1046.1V946.6M1273.1 1087.4V992.3M1299.2 1120.5V1030.8M1322.2 1145.6V1061.6M1342.8 1169.5V1090.8M1361.4 1189.4V1115.1M1378.4 1208.1V1137.9M1394.1 1220.9V1153.3M1408.5 1233.6V1168.6M1422 1243.9V1180.9M1434.6 1254.1V1193.2M1446.5 1262.7V1203.4M1457.6 1269.2V1211.3M1468.2 1275.4V1219.8M1478.2 1278.1V1223.7M1513.8 1290.8V1241.8M1544 1297.6V1253.4M1570 1300.6V1258.4M1593 1304.1V1264.4M1613.6 1305.3V1266.4M1632.2 1306.6V1268.5M1649.2 1305.5V1266.7M1664.9 1308.2V1271M1679.4 1306.8V1268.8M1692.8 1305.7V1267.2M1705.4 1308.6V1271.6M1717.3 1310.3V1274.2M1728.4 1308.7V1271.7M1739 1308.8V1271.9M1749 1307.9V1270.5M1758.6 1307.4V1269.9M1767.6 1308.5V1271.5M1776.3 1307.8V1270.5M1828.2 1309.3V1272.6M1884.4 1308.1V1270.9M1928 1307.8V1270.4M1963.6 1307.9V1270.6M1993.8 1308V1270.7M2019.8 1306.8V1268.9M2042.8 1307.4V1269.8M2063.4 1310.6V1274.6"/><path clip-path="url(#ce)" stroke-width="4.7" d="M883 570.8h20M883 474.1h20M1018.4 737.9h20M1018.4 631.9h20M1097.6 849.5h20M1097.6 743.4h20M1153.8 932.8h20M1153.8 826.7h20M1197.4 993.8h20M1197.4 893.7h20M1233 1043.7h20M1233 948.9h20M1263.1 1085.1h20M1263.1 994.6h20M1289.2 1118.1h20M1289.2 1033.2h20M1312.2 1143.3h20M1312.2 1063.9h20M1332.8 1167.2h20M1332.8 1093.1h20M1351.4 1187.1h20M1351.4 1117.5h20M1368.4 1205.7h20M1368.4 1140.2h20M1384.1 1218.5h20M1384.1 1155.7h20M1398.5 1231.2h20M1398.5 1170.9h20M1412 1241.5h20M1412 1183.3h20M1424.6 1251.8h20M1424.6 1195.5h20M1436.5 1260.3h20M1436.5 1205.8h20M1447.6 1266.9h20M1447.6 1213.6h20M1458.2 1273h20M1458.2 1222.2h20M1468.2 1275.7h20M1468.2 1226h20M1503.8 1288.4h20M1503.8 1244.2h20M1534 1295.3h20M1534 1255.8h20M1560 1298.2h20M1560 1260.8h20M1583 1301.7h20M1583 1266.7h20M1603.6 1302.9h20M1603.6 1268.7h20M1622.2 1304.2h20M1622.2 1270.9h20M1639.2 1303.1h20M1639.2 1269.1h20M1654.9 1305.8h20M1654.9 1273.3h20M1669.4 1304.4h20M1669.4 1271.2h20M1682.8 1303.4h20M1682.8 1269.5h20M1695.4 1306.3h20M1695.4 1274h20M1707.3 1308h20M1707.3 1276.5h20M1718.4 1306.3h20M1718.4 1274.1h20M1729 1306.4h20M1729 1274.2h20M1739 1305.5h20M1739 1272.9h20M1748.6 1305.1h20M1748.6 1272.2h20M1757.6 1306.2h20M1757.6 1273.9h20M1766.3 1305.5h20M1766.3 1272.8h20M1818.2 1306.9h20M1818.2 1275h20M1874.4 1305.8h20M1874.4 1273.3h20M1918 1305.5h20M1918 1272.8h20M1953.6 1305.6h20M1953.6 1273h20M1983.8 1305.6h20M1983.8 1273h20M2009.8 1304.5h20M2009.8 1271.3h20M2032.8 1305.1h20M2032.8 1272.2h20M2053.4 1308.2h20M2053.4 1276.9h20"/><path d="M873.4 522.5a19.6 19.6 0 1 0 39.2 0a19.6 19.6 0 1 0 -39.2 0ZM1008.8 684.9a19.6 19.6 0 1 0 39.2 0a19.6 19.6 0 1 0 -39.2 0ZM1088 796.5a19.6 19.6 0 1 0 39.2 0a19.6 19.6 0 1 0 -39.2 0ZM1144.2 879.8a19.6 19.6 0 1 0 39.2 0a19.6 19.6 0 1 0 -39.2 0ZM1187.8 943.7a19.6 19.6 0 1 0 39.2 0a19.6 19.6 0 1 0 -39.2 0ZM1223.4 996.3a19.6 19.6 0 1 0 39.2 0a19.6 19.6 0 1 0 -39.2 0ZM1253.5 1039.9a19.6 19.6 0 1 0 39.2 0a19.6 19.6 0 1 0 -39.2 0ZM1279.6 1075.6a19.6 19.6 0 1 0 39.2 0a19.6 19.6 0 1 0 -39.2 0ZM1302.6 1103.6a19.6 19.6 0 1 0 39.2 0a19.6 19.6 0 1 0 -39.2 0ZM1323.2 1130.1a19.6 19.6 0 1 0 39.2 0a19.6 19.6 0 1 0 -39.2 0ZM1341.8 1152.3a19.6 19.6 0 1 0 39.2 0a19.6 19.6 0 1 0 -39.2 0ZM1358.8 1173a19.6 19.6 0 1 0 39.2 0a19.6 19.6 0 1 0 -39.2 0ZM1374.5 1187.1a19.6 19.6 0 1 0 39.2 0a19.6 19.6 0 1 0 -39.2 0ZM1388.9 1201.1a19.6 19.6 0 1 0 39.2 0a19.6 19.6 0 1 0 -39.2 0ZM1402.4 1212.4a19.6 19.6 0 1 0 39.2 0a19.6 19.6 0 1 0 -39.2 0ZM1415 1223.6a19.6 19.6 0 1 0 39.2 0a19.6 19.6 0 1 0 -39.2 0ZM1426.9 1233.1a19.6 19.6 0 1 0 39.2 0a19.6 19.6 0 1 0 -39.2 0ZM1438 1240.2a19.6 19.6 0 1 0 39.2 0a19.6 19.6 0 1 0 -39.2 0ZM1448.6 1247.6a19.6 19.6 0 1 0 39.2 0a19.6 19.6 0 1 0 -39.2 0ZM1458.6 1250.9a19.6 19.6 0 1 0 39.2 0a19.6 19.6 0 1 0 -39.2 0ZM1494.2 1266.3a19.6 19.6 0 1 0 39.2 0a19.6 19.6 0 1 0 -39.2 0ZM1524.4 1275.5a19.6 19.6 0 1 0 39.2 0a19.6 19.6 0 1 0 -39.2 0ZM1550.4 1279.5a19.6 19.6 0 1 0 39.2 0a19.6 19.6 0 1 0 -39.2 0ZM1573.4 1284.2a19.6 19.6 0 1 0 39.2 0a19.6 19.6 0 1 0 -39.2 0ZM1594 1285.8a19.6 19.6 0 1 0 39.2 0a19.6 19.6 0 1 0 -39.2 0ZM1612.6 1287.6a19.6 19.6 0 1 0 39.2 0a19.6 19.6 0 1 0 -39.2 0ZM1629.6 1286.1a19.6 19.6 0 1 0 39.2 0a19.6 19.6 0 1 0 -39.2 0ZM1645.3 1289.6a19.6 19.6 0 1 0 39.2 0a19.6 19.6 0 1 0 -39.2 0ZM1659.8 1287.8a19.6 19.6 0 1 0 39.2 0a19.6 19.6 0 1 0 -39.2 0ZM1673.2 1286.4a19.6 19.6 0 1 0 39.2 0a19.6 19.6 0 1 0 -39.2 0ZM1685.8 1290.1a19.6 19.6 0 1 0 39.2 0a19.6 19.6 0 1 0 -39.2 0ZM1697.7 1292.2a19.6 19.6 0 1 0 39.2 0a19.6 19.6 0 1 0 -39.2 0ZM1708.8 1290.2a19.6 19.6 0 1 0 39.2 0a19.6 19.6 0 1 0 -39.2 0ZM1719.4 1290.3a19.6 19.6 0 1 0 39.2 0a19.6 19.6 0 1 0 -39.2 0ZM1729.4 1289.2a19.6 19.6 0 1 0 39.2 0a19.6 19.6 0 1 0 -39.2 0ZM1739 1288.7a19.6 19.6 0 1 0 39.2 0a19.6 19.6 0 1 0 -39.2 0ZM1748 1290a19.6 19.6 0 1 0 39.2 0a19.6 19.6 0 1 0 -39.2 0ZM1756.7 1289.2a19.6 19.6 0 1 0 39.2 0a19.6 19.6 0 1 0 -39.2 0ZM1808.6 1290.9a19.6 19.6 0 1 0 39.2 0a19.6 19.6 0 1 0 -39.2 0ZM1864.8 1289.5a19.6 19.6 0 1 0 39.2 0a19.6 19.6 0 1 0 -39.2 0ZM1908.4 1289.1a19.6 19.6 0 1 0 39.2 0a19.6 19.6 0 1 0 -39.2 0ZM1944 1289.3a19.6 19.6 0 1 0 39.2 0a19.6 19.6 0 1 0 -39.2 0ZM1974.2 1289.3a19.6 19.6 0 1 0 39.2 0a19.6 19.6 0 1 0 -39.2 0ZM2000.2 1287.9a19.6 19.6 0 1 0 39.2 0a19.6 19.6 0 1 0 -39.2 0ZM2023.2 1288.6a19.6 19.6 0 1 0 39.2 0a19.6 19.6 0 1 0 -39.2 0ZM2043.8 1292.6a19.6 19.6 0 1 0 39.2 0a19.6 19.6 0 1 0 -39.2 0Z"/></g>
<polyline id="curve" clip-path="url(#cp)" fill="none" stroke="#000" stroke-width="20.5" stroke-linejoin="round" points="398.6,198.0 401.4,198.9 404.2,199.9 407.0,200.8 409.8,201.7 412.6,202.7 415.4,203.6 418.2,204.6 421.0,205.5 423.8,206.5 426.6,207.5 429.4,208.5 432.2,209.5 435.0,210.5 437.8,211.5 440.7,212.5 443.5,213.5 446.3,214.5 449.1,215.6 451.9,216.6 454.7,217.7 457.5,218.7 460.3,219.8 463.1,220.9 465.9,221.9 468.7,223.0 471.5,224.1 474.3,225.2 477.1,226.3 479.9,227.4 482.7,228.6 485.5,229.7 488.3,230.8 491.1,232.0 493.9,233.2 496.7,234.3 499.5,235.5 502.3,236.7 505.1,237.9 507.9,239.1 510.7,240.3 513.5,241.5 516.3,242.7 519.1,243.9 521.9,245.2 524.7,246.4 527.5,247.7 530.3,248.9 533.2,250.2 536.0,251.5 538.8,252.8 541.6,254.1 544.4,255.4 547.2,256.8 550.0,258.1 552.8,259.5 555.6,260.8 558.4,262.2 561.2,263.6 564.0,265.0 566.8,266.4 569.6,267.8 572.4,269.2 575.2,270.7 578.0,272.1 580.8,273.6 583.6,275.0 586.4,276.5 589.2,278.0 592.0,279.5 594.8,281.0 597.6,282.5 600.4,284.0 603.2,285.6 606.0,287.1 608.8,288.7 611.6,290.2 614.4,291.8 617.2,293.4 620.0,295.0 622.8,296.6 625.6,298.3 628.5,299.9 631.3,301.5 634.1,303.2 636.9,304.9 639.7,306.5 642.5,308.2 645.3,309.9 648.1,311.7 650.9,313.4 653.7,315.1 656.5,316.9 659.3,318.6 662.1,320.4 664.9,322.2 667.7,324.0 670.5,325.8 673.3,327.6 676.1,329.5 678.9,331.3 681.7,333.2 684.5,335.0 687.3,336.9 690.1,338.8 692.9,340.7 695.7,342.7 698.5,344.6 701.3,346.5 704.1,348.5 706.9,350.5 709.7,352.5 712.5,354.5 715.3,356.5 718.1,358.5 721.0,360.5 723.8,362.6 726.6,364.6 729.4,366.7 732.2,368.8 735.0,370.9 737.8,373.0 740.6,375.1 743.4,377.2 746.2,379.4 749.0,381.5 751.8,383.7 754.6,385.9 757.4,388.1 760.2,390.3 763.0,392.5 765.8,394.8 768.6,397.0 771.4,399.3 774.2,401.6 777.0,403.9 779.8,406.2 782.6,408.5 785.4,410.9 788.2,413.2 791.0,415.6 793.8,418.0 796.6,420.4 799.4,422.8 802.2,425.3 805.0,427.7 807.8,430.2 810.6,432.6 813.4,435.1 816.3,437.7 819.1,440.2 821.9,442.7 824.7,445.3 827.5,447.8 830.3,450.4 833.1,453.0 835.9,455.7 838.7,458.3 841.5,460.9 844.3,463.6 847.1,466.3 849.9,469.0 852.7,471.7 855.5,474.4 858.3,477.2 861.1,479.9 863.9,482.7 866.7,485.5 869.5,488.3 872.3,491.2 875.1,494.0 877.9,496.9 880.7,499.8 883.5,502.7 886.3,505.6 889.1,508.5 891.9,511.4 894.7,514.4 897.5,517.4 900.3,520.4 903.1,523.4 905.9,526.4 908.7,529.5 911.6,532.5 914.4,535.6 917.2,538.7 920.0,541.8 922.8,544.9 925.6,548.1 928.4,551.3 931.2,554.4 934.0,557.6 936.8,560.8 939.6,564.1 942.4,567.3 945.2,570.6 948.0,573.9 950.8,577.2 953.6,580.5 956.4,583.8 959.2,587.1 962.0,590.5 964.8,593.9 967.6,597.3 970.4,600.7 973.2,604.1 976.0,607.6 978.8,611.0 981.6,614.5 984.4,618.0 987.2,621.5 990.0,625.0 992.8,628.6 995.6,632.1 998.4,635.7 1001.2,639.3 1004.1,642.9 1006.9,646.5 1009.7,650.2 1012.5,653.8 1015.3,657.5 1018.1,661.2 1020.9,664.9 1023.7,668.6 1026.5,672.3 1029.3,676.1 1032.1,679.8 1034.9,683.6 1037.7,687.4 1040.5,691.1 1043.3,695.0 1046.1,698.8 1048.9,702.6 1051.7,706.5 1054.5,710.3 1057.3,714.2 1060.1,718.1 1062.9,722.0 1065.7,725.9 1068.5,729.9 1071.3,733.8 1074.1,737.8 1076.9,741.7 1079.7,745.7 1082.5,749.7 1085.3,753.7 1088.1,757.7 1090.9,761.8 1093.7,765.8 1096.5,769.9 1099.4,773.9 1102.2,778.0 1105.0,782.1 1107.8,786.2 1110.6,790.3 1113.4,794.4 1116.2,798.5 1119.0,802.6 1121.8,806.8 1124.6,810.9 1127.4,815.1 1130.2,819.2 1133.0,823.4 1135.8,827.6 1138.6,831.8 1141.4,836.0 1144.2,840.1 1147.0,844.4 1149.8,848.6 1152.6,852.8 1155.4,857.0 1158.2,861.2 1161.0,865.4 1163.8,869.7 1166.6,873.9 1169.4,878.1 1172.2,882.4 1175.0,886.5 1177.8,890.6 1180.6,894.8 1183.4,898.9 1186.2,903.1 1189.0,907.2 1191.9,911.4 1194.7,915.5 1197.5,919.7 1200.3,923.8 1203.1,928.0 1205.9,932.1 1208.7,936.2 1211.5,940.4 1214.3,944.5 1217.1,948.6 1219.9,952.8 1222.7,956.9 1225.5,961.0 1228.3,965.1 1231.1,969.2 1233.9,973.3 1236.7,977.3 1239.5,981.4 1242.3,985.5 1245.1,989.5 1247.9,993.6 1250.7,997.6 1253.5,1001.6 1256.3,1005.6 1259.1,1009.6 1261.9,1013.6 1264.7,1017.6 1267.5,1021.6 1270.3,1025.5 1273.1,1029.4 1275.9,1033.4 1278.7,1037.3 1281.5,1041.2 1284.3,1045.0 1287.2,1048.9 1290.0,1052.7 1292.8,1056.5 1295.6,1060.3 1298.4,1064.1 1301.2,1067.9 1304.0,1071.6 1306.8,1075.3 1309.6,1079.0 1312.4,1082.7 1315.2,1086.3 1318.0,1089.9 1320.8,1093.5 1323.6,1097.1 1326.4,1100.7 1329.2,1104.2 1332.0,1107.7 1334.8,1111.2 1337.6,1114.6 1340.4,1118.1 1343.2,1121.4 1346.0,1124.8 1348.8,1128.1 1351.6,1131.4 1354.4,1134.7 1357.2,1138.0 1360.0,1141.2 1362.8,1144.4 1365.6,1147.5 1368.4,1150.6 1371.2,1153.7 1374.0,1156.8 1376.8,1159.8 1379.7,1162.8 1382.5,1165.7 1385.3,1168.7 1388.1,1171.5 1390.9,1174.4 1393.7,1177.2 1396.5,1180.0 1399.3,1182.7 1402.1,1185.4 1404.9,1188.1 1407.7,1190.7 1410.5,1193.3 1413.3,1195.9 1416.1,1198.4 1418.9,1200.8 1421.7,1203.3 1424.5,1205.7 1427.3,1208.0 1430.1,1210.4 1432.9,1212.6 1435.7,1214.9 1438.5,1217.1 1441.3,1219.3 1444.1,1221.4 1446.9,1223.5 1449.7,1225.5 1452.5,1227.5 1455.3,1229.5 1458.1,1231.5 1460.9,1233.3 1463.7,1235.2 1466.5,1237.0 1469.3,1238.8 1472.1,1240.5 1475.0,1242.2 1477.8,1243.9 1480.6,1245.5 1483.4,1247.1 1486.2,1248.7 1489.0,1250.2 1491.8,1251.6 1494.6,1253.1 1497.4,1254.5 1500.2,1255.8 1503.0,1257.2 1505.8,1258.5 1508.6,1259.7 1511.4,1260.9 1514.2,1262.1 1517.0,1263.3 1519.8,1264.4 1522.6,1265.5 1525.4,1266.5 1528.2,1267.4 1531.0,1268.3 1533.8,1269.2 1536.6,1270.1 1539.4,1270.9 1542.2,1271.8 1545.0,1272.5 1547.8,1273.3 1550.6,1274.0 1553.4,1274.8 1556.2,1275.5 1559.0,1276.1 1561.8,1276.8 1564.6,1277.4 1567.5,1277.9 1570.3,1278.5 1573.1,1279.0 1575.9,1279.6 1578.7,1280.1 1581.5,1280.6 1584.3,1281.0 1587.1,1281.5 1589.9,1281.9 1592.7,1282.3 1595.5,1282.7 1598.3,1283.1 1601.1,1283.5 1603.9,1283.8 1606.7,1284.2 1609.5,1284.5 1612.3,1284.8 1615.1,1285.1 1617.9,1285.4 1620.7,1285.6 1623.5,1285.9 1626.3,1286.1 1629.1,1286.4 1631.9,1286.6 1634.7,1286.8 1637.5,1287.0 1640.3,1287.2 1643.1,1287.4 1645.9,1287.5 1648.7,1287.7 1651.5,1287.9 1654.3,1288.0 1657.1,1288.1 1659.9,1288.3 1662.8,1288.4 1665.6,1288.5 1668.4,1288.6 1671.2,1288.7 1674.0,1288.8 1676.8,1288.9 1679.6,1289.0 1682.4,1289.1 1685.2,1289.2 1688.0,1289.2 1690.8,1289.3 1693.6,1289.4 1696.4,1289.4 1699.2,1289.5 1702.0,1289.5 1704.8,1289.6 1707.6,1289.6 1710.4,1289.7 1713.2,1289.7 1716.0,1289.8 1718.8,1289.8 1721.6,1289.8 1724.4,1289.8 1727.2,1289.9 1730.0,1289.9 1732.8,1289.9 1735.6,1289.9 1738.4,1290.0 1741.2,1290.0 1744.0,1290.0 1746.8,1290.0 1749.6,1290.0 1752.4,1290.0 1755.3,1290.1 1758.1,1290.1 1760.9,1290.1 1763.7,1290.1 1766.5,1290.1 1769.3,1290.1 1772.1,1290.1 1774.9,1290.1 1777.7,1290.1 1780.5,1290.1 1783.3,1290.1 1786.1,1290.1 1788.9,1290.1 1791.7,1290.1 1794.5,1290.1 1797.3,1290.2 1800.1,1290.2 1802.9,1290.2 1805.7,1290.2 1808.5,1290.2 1811.3,1290.2 1814.1,1290.2 1816.9,1290.2 1819.7,1290.2 1822.5,1290.2 1825.3,1290.2 1828.1,1290.2 1830.9,1290.2 1833.7,1290.2 1836.5,1290.2 1839.3,1290.2 1842.1,1290.2 1844.9,1290.2 1847.7,1290.2 1850.6,1290.2 1853.4,1290.2 1856.2,1290.2 1859.0,1290.2 1861.8,1290.2 1864.6,1290.2 1867.4,1290.2 1870.2,1290.2 1873.0,1290.2 1875.8,1290.2 1878.6,1290.2 1881.4,1290.2 1884.2,1290.2 1887.0,1290.2 1889.8,1290.2 1892.6,1290.2 1895.4,1290.2 1898.2,1290.2 1901.0,1290.2 1903.8,1290.2 1906.6,1290.2 1909.4,1290.2 1912.2,1290.2 1915.0,1290.2 1917.8,1290.2 1920.6,1290.2 1923.4,1290.2 1926.2,1290.2 1929.0,1290.2 1931.8,1290.2 1934.6,1290.2 1937.4,1290.2 1940.2,1290.2 1943.0,1290.2 1945.9,1290.2 1948.7,1290.2 1951.5,1290.2 1954.3,1290.2 1957.1,1290.2 1959.9,1290.2 1962.7,1290.2 1965.5,1290.2 1968.3,1290.2 1971.1,1290.2 1973.9,1290.2 1976.7,1290.2 1979.5,1290.2 1982.3,1290.2 1985.1,1290.2 1987.9,1290.2 1990.7,1290.2 1993.5,1290.2 1996.3,1290.2 1999.1,1290.2 2001.9,1290.2 2004.7,1290.2 2007.5,1290.2 2010.3,1290.2 2013.1,1290.2 2015.9,1290.2 2018.7,1290.2 2021.5,1290.2 2024.3,1290.2 2027.1,1290.2 2029.9,1290.2 2032.7,1290.2 2035.5,1290.2 2038.4,1290.2 2041.2,1290.2 2044.0,1290.2 2046.8,1290.2 2049.6,1290.2 2052.4,1290.2 2055.2,1290.2 2058.0,1290.2 2060.8,1290.2 2063.6,1290.2 2066.4,1290.2 2069.2,1290.2 2072.0,1290.2 2074.8,1290.2 2077.6,1290.2 2080.4,1290.2"/>
<g id="border" fill="#000"><rect x="405" y="67" width="4" height="1237.9"/><rect x="2069" y="67" width="4" height="1237.9"/><rect x="405" y="67" width="1668" height="4.8"/><rect x="405" y="1301" width="1668" height="3.9"/></g>
<g class="d" stroke="#9400d3"><path stroke-width="4.7" d="M1756.8 142.0H1976.3"/><path d="M1758.8 132.0v20M1974.3 132.0v20M1846.6 142H1885.8M1866.2 122.4V161.6"/></g>
<g class="d" stroke="#009e73"><path stroke-width="4.7" d="M1756.8 247.4H1976.3"/><path d="M1758.8 237.4v20M1974.3 237.4v20M1846.6 227.8L1885.8 267M1846.6 267L1885.8 227.8"/></g>
<g class="d" stroke="#56b4e9"><path stroke-width="4.7" d="M1756.8 352.8H1976.3"/><path d="M1758.8 342.8v20M1974.3 342.8v20M1846.6 352.8H1885.8M1866.2 333.2V372.4M1846.6 333.2L1885.8 372.4M1846.6 372.4L1885.8 333.2"/></g>
<g class="d" stroke="#e69f00"><path stroke-width="4.7" d="M1756.8 458.6H1976.3"/><path d="M1758.8 448.6v20M1974.3 448.6v20M1846.6 439H1885.8V478.2H1846.6Z"/></g>
<g class="d" stroke="#f0e442"><path stroke-width="4.7" d="M1756.8 564.2H1976.3"/><path d="M1758.8 554.2v20M1974.3 554.2v20M1846.6 564.2a19.6 19.6 0 1 0 39.2 0a19.6 19.6 0 1 0 -39.2 0Z"/></g>
<defs><clipPath id="c0"><rect x="-10" y="-84.2" width="66.8" height="76.63"/><rect x="20.63" y="-8.42" width="8.42" height="10.11"/></clipPath><clipPath id="c1"><rect x="-10" y="-83.1" width="135.5" height="75.63"/><rect x="89.68" y="-8.31" width="8.31" height="9.97"/><rect x="-10" y="-8.31" width="83.47" height="24.93"/></clipPath><clipPath id="c2"><rect x="-10" y="-83.9" width="66.7" height="76.37"/><rect x="20.56" y="-8.39" width="8.39" height="10.07"/></clipPath><clipPath id="c3"><rect x="-10" y="-83.1" width="112.5" height="75.63"/><rect x="20.36" y="-8.31" width="8.31" height="9.97"/><rect x="44.05" y="-8.31" width="92.45" height="24.93"/></clipPath><clipPath id="c4"><rect x="-10" y="-83.1" width="158.7" height="75.63"/><rect x="20.36" y="-8.31" width="8.31" height="9.97"/><rect x="44.05" y="-8.31" width="138.68" height="24.93"/></clipPath></defs>
<g id="ytics">
<text class="tk" font-size="84.21" clip-path="url(#c0)" transform="translate(312.67 95.90) scale(1.0767 1)">1</text>
<text class="tk" font-size="83.53" transform="translate(246.71 343.18) scale(0.9545 1)">0.8</text>
<text class="tk" font-size="83.53" transform="translate(246.71 589.85) scale(0.9545 1)">0.6</text>
<text class="tk" font-size="83.53" transform="translate(246.74 836.27) scale(0.9450 1)">0.4</text>
<text class="tk" font-size="83.53" transform="translate(246.71 1082.89) scale(0.9559 1)">0.2</text>
<text class="tk" font-size="83.39" transform="translate(313.98 1330.17) scale(0.9298 1)">0</text>
</g>
<g id="xtics">
<text class="tk" font-size="83.11" clip-path="url(#c1)" transform="translate(676.87 1411.07) scale(1.0029 1)">0.1</text>
<text class="tk" font-size="83.92" clip-path="url(#c2)" transform="translate(1159.39 1411.40) scale(1.0902 1)">1</text>
<text class="tk" font-size="83.11" clip-path="url(#c3)" transform="translate(1589.06 1411.07) scale(0.9675 1)">10</text>
<text class="tk" font-size="83.11" clip-path="url(#c4)" transform="translate(2016.23 1411.07) scale(0.9594 1)">100</text>
</g>
<g id="key">
<text class="tk" font-size="83.10" transform="translate(1459.60 169.27) scale(0.9858 1)">2, 0.08</text>
<text class="tk" font-size="83.10" transform="translate(1459.62 274.82) scale(0.9812 1)">2, 0.04</text>
<text class="tk" font-size="83.10" transform="translate(1459.59 380.37) scale(0.9883 1)">2, 0.02</text>
<text class="tk" font-size="83.25" transform="translate(1462.68 485.92) scale(0.9674 1)">3, 0.04</text>
<text class="tk" font-size="83.25" transform="translate(1461.38 591.47) scale(0.9725 1)">4, 0.04</text>
</g>
<g id="xlabel">
<text class="mi" font-size="137.66" transform="translate(925.35 1543.30) scale(1.0474 1)">k</text>
<text class="mp" font-size="149.52" transform="translate(1001.77 1543.53) scale(0.8753 1)">(</text>
<text class="mi" font-size="129.25" transform="translate(1047.05 1542.51) scale(1.1744 1)">α</text>
<text class="mn" font-size="100.00" transform="translate(1165.07 1541.05) scale(1.7462 1)">−</text>
<text class="mr" font-size="137.58" transform="translate(1296.46 1542.00) scale(0.9341 1)">1</text>
<text class="mp" font-size="149.52" transform="translate(1365.33 1543.53) scale(0.8796 1)">)</text>
<text class="mi" font-size="116.10" transform="translate(1414.45 1542.64) scale(1.2771 1)">σ</text>
<text class="ms" font-size="94.79" transform="translate(1496.21 1493.70) scale(1.1305 1)">2</text>
</g>
<g id="ylabel">
<rect x="28.9" y="720.2" width="6" height="97.5" fill="#000"/>
<text class="mr" font-size="143.09" transform="translate(142.00 818.69) rotate(-90) scale(0.9391 1)">Ω</text>
<text class="ms" font-size="94.67" transform="translate(161.35 719.80) rotate(-90) scale(1.1101 1)">100</text>
</g>
</svg>
</body></html>
